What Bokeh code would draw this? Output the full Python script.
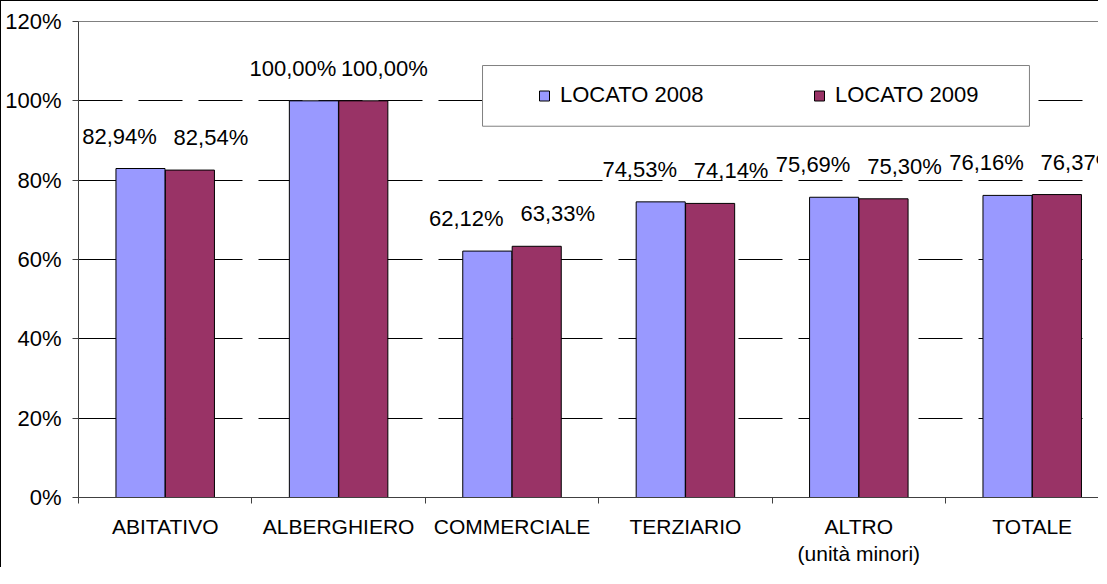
from bokeh.plotting import figure
from bokeh.models import (ColumnDataSource, Range1d, FixedTicker, LinearAxis,
                          NumeralTickFormatter, LabelSet, Legend, LegendItem,
                          BoxAnnotation)
from bokeh.transform import dodge
from bokeh.core.properties import value
from bokeh.embed import file_html
from bokeh.resources import INLINE

# ---------------- data ----------------
categories = ["ABITATIVO", "ALBERGHIERO", "COMMERCIALE", "TERZIARIO",
              "ALTRO\n(unità minori)", "TOTALE"]
locato_2008 = [0.8294, 1.0000, 0.6212, 0.7453, 0.7569, 0.7616]
locato_2009 = [0.8254, 1.0000, 0.6333, 0.7414, 0.7530, 0.7637]
series_names = ["LOCATO 2008", "LOCATO 2009"]
y_ticks = [0, 0.2, 0.4, 0.6, 0.8, 1.0, 1.2]
grid_ticks = [0.2, 0.4, 0.6, 0.8, 1.0]


def pct(v):
    return f"{v * 100:.2f}%".replace(".", ",")


idx = list(range(len(categories)))
src = ColumnDataSource(dict(
    x=idx,
    y8=locato_2008,
    y9=locato_2009,
    t8=[pct(v) for v in locato_2008],
    t9=[pct(v) for v in locato_2009],
))

FONT = "Liberation Sans"
FS = "22px"
FS_X = "21px"
BLUE = "#9999FF"
MAROON = "#993366"
AXIS = "#404040"

p = figure(width=1098, height=567, output_backend="svg", toolbar_location=None,
           x_range=Range1d(-0.5, 5.388), y_range=Range1d(0, 1.2),
           min_border_left=77, min_border_right=0, min_border_top=20,
           min_border_bottom=70)
p.outline_line_color = None
p.background_fill_color = "white"
p.border_fill_color = "white"
p.styles = {"border-left": "1px solid black", "border-top": "1px solid black"}

# grid
p.xgrid.visible = False
p.ygrid.ticker = FixedTicker(ticks=grid_ticks)
p.ygrid.grid_line_color = "black"
p.ygrid.grid_line_width = 1
p.ygrid.grid_line_dash = "44 16"

# y axis
ya = p.yaxis[0]
ya.ticker = FixedTicker(ticks=y_ticks)
ya.formatter = NumeralTickFormatter(format="0%")
ya.major_tick_out = 6
ya.major_tick_in = 0
ya.minor_tick_line_color = None
ya.axis_line_color = AXIS
ya.major_tick_line_color = AXIS
ya.major_label_text_font = FONT
ya.major_label_text_font_size = FS
ya.major_label_text_color = "black"
ya.major_label_standoff = 11

# x axis
xa = p.xaxis[0]
xa.ticker = FixedTicker(ticks=idx, minor_ticks=[i - 0.5 for i in range(len(categories) + 1)])
xa.major_label_overrides = {i: c for i, c in zip(idx, categories)}
xa.major_tick_out = 0
xa.major_tick_in = 0
xa.minor_tick_out = 6
xa.minor_tick_in = 0
xa.minor_tick_line_color = AXIS
xa.axis_line_color = AXIS
xa.major_label_text_font = FONT
xa.major_label_text_font_size = FS_X
xa.major_label_text_color = "black"
xa.major_label_standoff = 11
xa.major_label_text_line_height = 1.2

# top border line of plot area
top = LinearAxis(ticker=FixedTicker(ticks=[]), axis_line_color="#808080",
                 major_tick_line_color=None, minor_tick_line_color=None,
                 major_label_text_font_size="0px")
p.add_layout(top, "above")

# bars
OFF = 0.1425
BW = 0.283
p.vbar(x=dodge("x", -OFF), top="y8", width=BW, source=src,
       fill_color=BLUE, line_color="black", line_width=1)
p.vbar(x=dodge("x", OFF), top="y9", width=BW, source=src,
       fill_color=MAROON, line_color="black", line_width=1)

# data labels
for col, tcol, dx, sx in (("y8", "t8", -OFF, -21), ("y9", "t9", OFF, 21)):
    p.add_layout(LabelSet(x=dodge("x", dx), y=col, text=tcol, source=src,
                          x_offset=sx, y_offset=25, text_align="center",
                          text_baseline="alphabetic", text_font=value(FONT),
                          text_font_size=FS, text_color="black"))

# legend box
p.add_layout(BoxAnnotation(left=1.83, right=4.984, bottom=0.936, top=1.089,
                           fill_color="white", fill_alpha=1,
                           line_color="#808080", line_width=1, line_alpha=1))

# legend (marker-only renderers for the small squares)
r8 = p.scatter(x="x", y="y8", source=src, marker="square",
               fill_color=BLUE, line_color="black", visible=False)
r9 = p.scatter(x="x", y="y9", source=src, marker="square",
               fill_color=MAROON, line_color="black", visible=False)
legend = Legend(items=[LegendItem(label=series_names[0], renderers=[r8]),
                       LegendItem(label=series_names[1], renderers=[r9])],
                orientation="horizontal", location=(450, 389),
                padding=0, spacing=43, glyph_width=32, glyph_height=25,
                label_standoff=0, label_width=200, margin=0,
                label_text_font=FONT, label_text_font_size=FS,
                label_text_color="black",
                border_line_color=None, background_fill_alpha=0)
p.add_layout(legend, "center")

open("out.html", "w").write(file_html(p, INLINE))
